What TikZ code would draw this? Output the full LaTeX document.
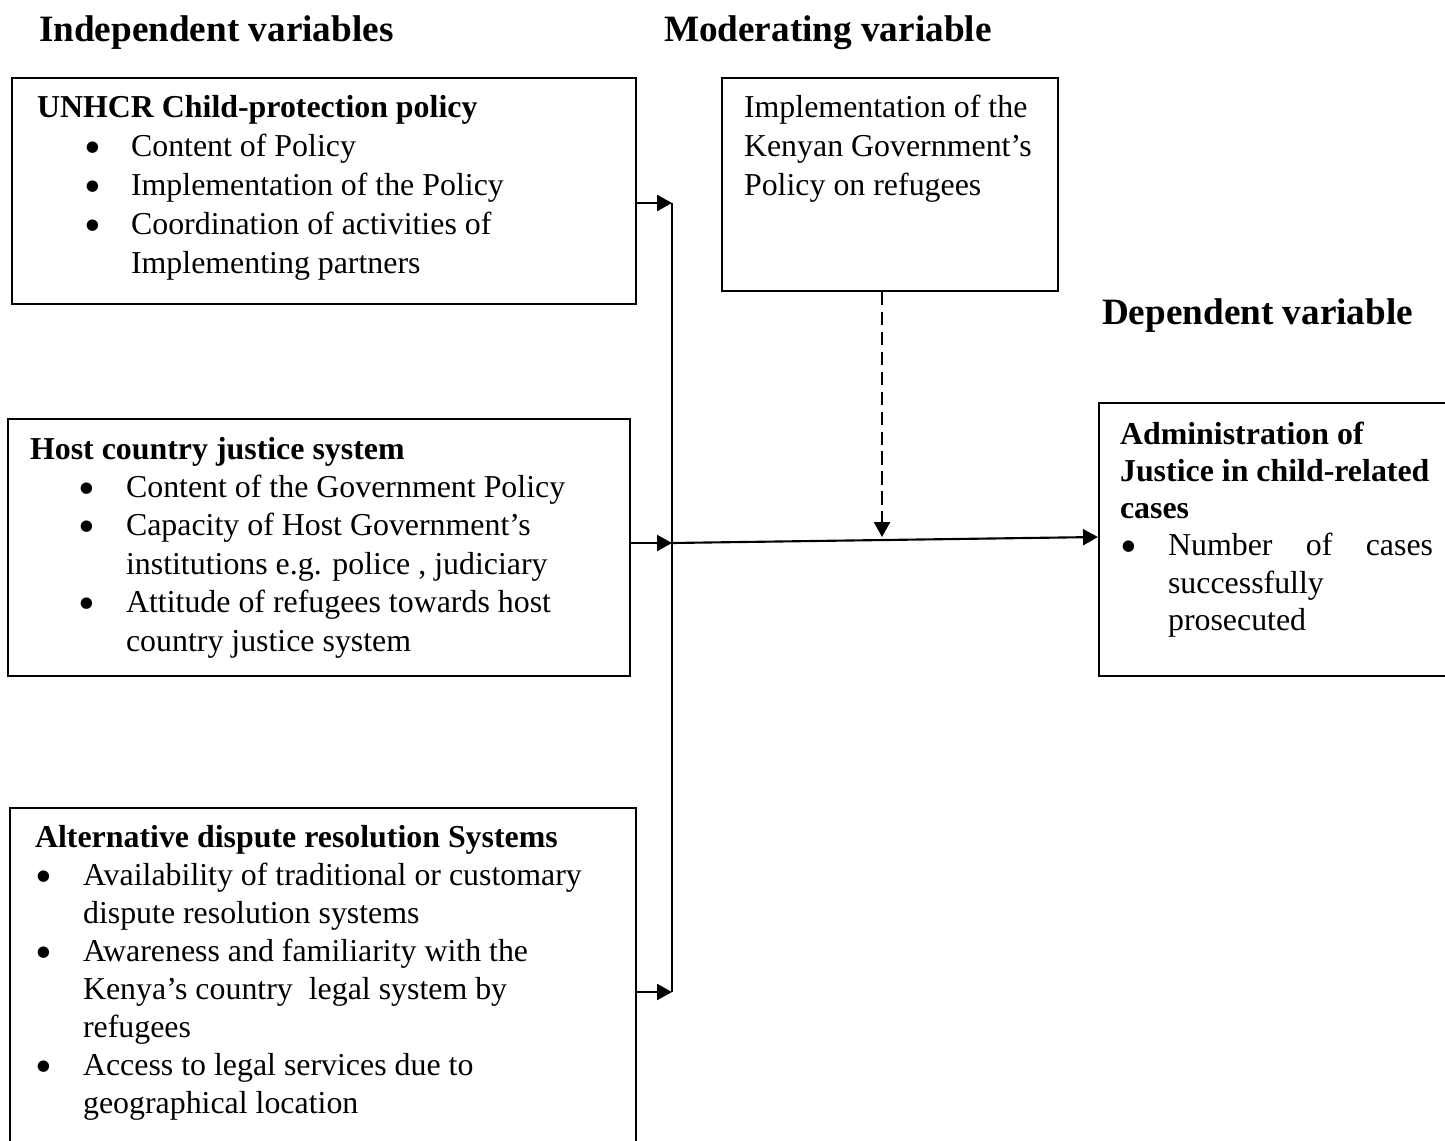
\documentclass[tikz,border=0pt]{standalone}
\usepackage{graphicx}
\usepackage{fontspec}
\setmainfont{Liberation Serif}
\usetikzlibrary{arrows.meta}
\newlength{\pxu}\setlength{\pxu}{0.3764pt}
\newcommand{\bigbul}{\raisebox{-2.6pt}{\scalebox{1.5}{\textbullet}}}
\newcommand{\hd}[1]{\textbf{#1}\par}
\newcommand{\bu}[3]{\hspace*{#1\pxu}\makebox[0pt][l]{\bigbul}\hspace*{#2\pxu}#3\par}
\newcommand{\cn}[2]{\hspace*{#1\pxu}#2\par}
\newcommand{\tb}[3]{\parbox[t]{#1\pxu}{\fontsize{12pt}{#2pt}\selectfont\parindent0pt\parskip0pt #3}}
\begin{document}
\begin{tikzpicture}[x=0.3764pt,y=-0.3764pt,line width=0.8pt,
  box/.style={draw,rectangle,inner sep=0pt},
  txt/.style={anchor=base west,inner sep=0pt},
  ttl/.style={anchor=base west,inner sep=0pt,font=\fontsize{14pt}{16pt}\selectfont\bfseries},
  arr/.style={-{Triangle[length=5.6pt,width=6pt]}}]
\useasboundingbox (0,0) rectangle (1445,1141);
\clip (0,0) rectangle (1445,1141);

% titles
\node[ttl] (h1) at (38,42) {Independent variables};
\node[ttl] (h2) at (663,42) {Moderating variable};
\node[ttl] (h3) at (1101,324) {Dependent variable};

% boxes
\node[box,minimum width=624\pxu,minimum height=226\pxu] (b1) at (324,191) {};
\node[box,minimum width=336\pxu,minimum height=213\pxu] (bm) at (890,184.5) {};
\node[box,minimum width=622\pxu,minimum height=257\pxu] (b2) at (319,547.5) {};
\node[box,minimum width=626\pxu,minimum height=362\pxu] (b3) at (323,989) {};
\node[box,minimum width=371\pxu,minimum height=273\pxu] (b4) at (1284.5,539.5) {};

% texts
\node[txt] (t1) at (36,118) {\tb{590}{14.68}{%
\hd{UNHCR Child-protection policy}
\bu{47}{47}{Content of Policy}
\bu{47}{47}{Implementation of the Policy}
\bu{47}{47}{Coordination of activities of}
\cn{94}{Implementing partners}}};

\node[txt] (tm) at (743,118) {\tb{310}{14.68}{%
Implementation of the\par
Kenyan Government’s\par
Policy on refugees\par}};

\node[txt] (t2) at (29,459) {\tb{595}{14.49}{%
\hd{Host country justice system}
\bu{48}{48}{Content of the Government Policy}
\bu{48}{48}{Capacity of Host Government’s}
\cn{96}{institutions e.g. police , judiciary}
\bu{48}{48}{Attitude of refugees towards host}
\cn{96}{country justice system}}};

\node[txt] (t3) at (34,847) {\tb{595}{14.34}{%
\hd{Alternative dispute resolution Systems}
\bu{0}{48}{Availability of traditional or customary}
\cn{48}{dispute resolution systems}
\bu{0}{48}{Awareness and familiarity with the}
\cn{48}{Kenya’s country~ legal system by}
\cn{48}{refugees}
\bu{0}{48}{Access to legal services due to}
\cn{48}{geographical location}}};

\node[txt] (t4) at (1119,444) {\tb{320}{14.04}{%
\hd{Administration of}
\hd{Justice in child-related}
\hd{cases}
\bu{0}{48}{\makebox[265\pxu][s]{Number of cases}}
\cn{48}{successfully}
\cn{48}{prosecuted}}};

% connectors
\coordinate (j1) at (672,203);
\coordinate (j2) at (672,543);
\coordinate (j3) at (672,992);
\coordinate (tg) at (1099,537);
\coordinate (dm) at (882,537);
\draw (j1) -- (j3);
\draw[arr] (b1.east |- j1) -- (j1);
\draw[arr] (b2.east |- j2) -- (j2);
\draw[arr] (b3.east |- j3) -- (j3);
\draw[arr] (j2) -- (b4.west |- tg);
\draw[arr,dash pattern=on 5pt off 2.5pt] (bm.south -| dm) -- (dm);
\end{tikzpicture}
\end{document}
